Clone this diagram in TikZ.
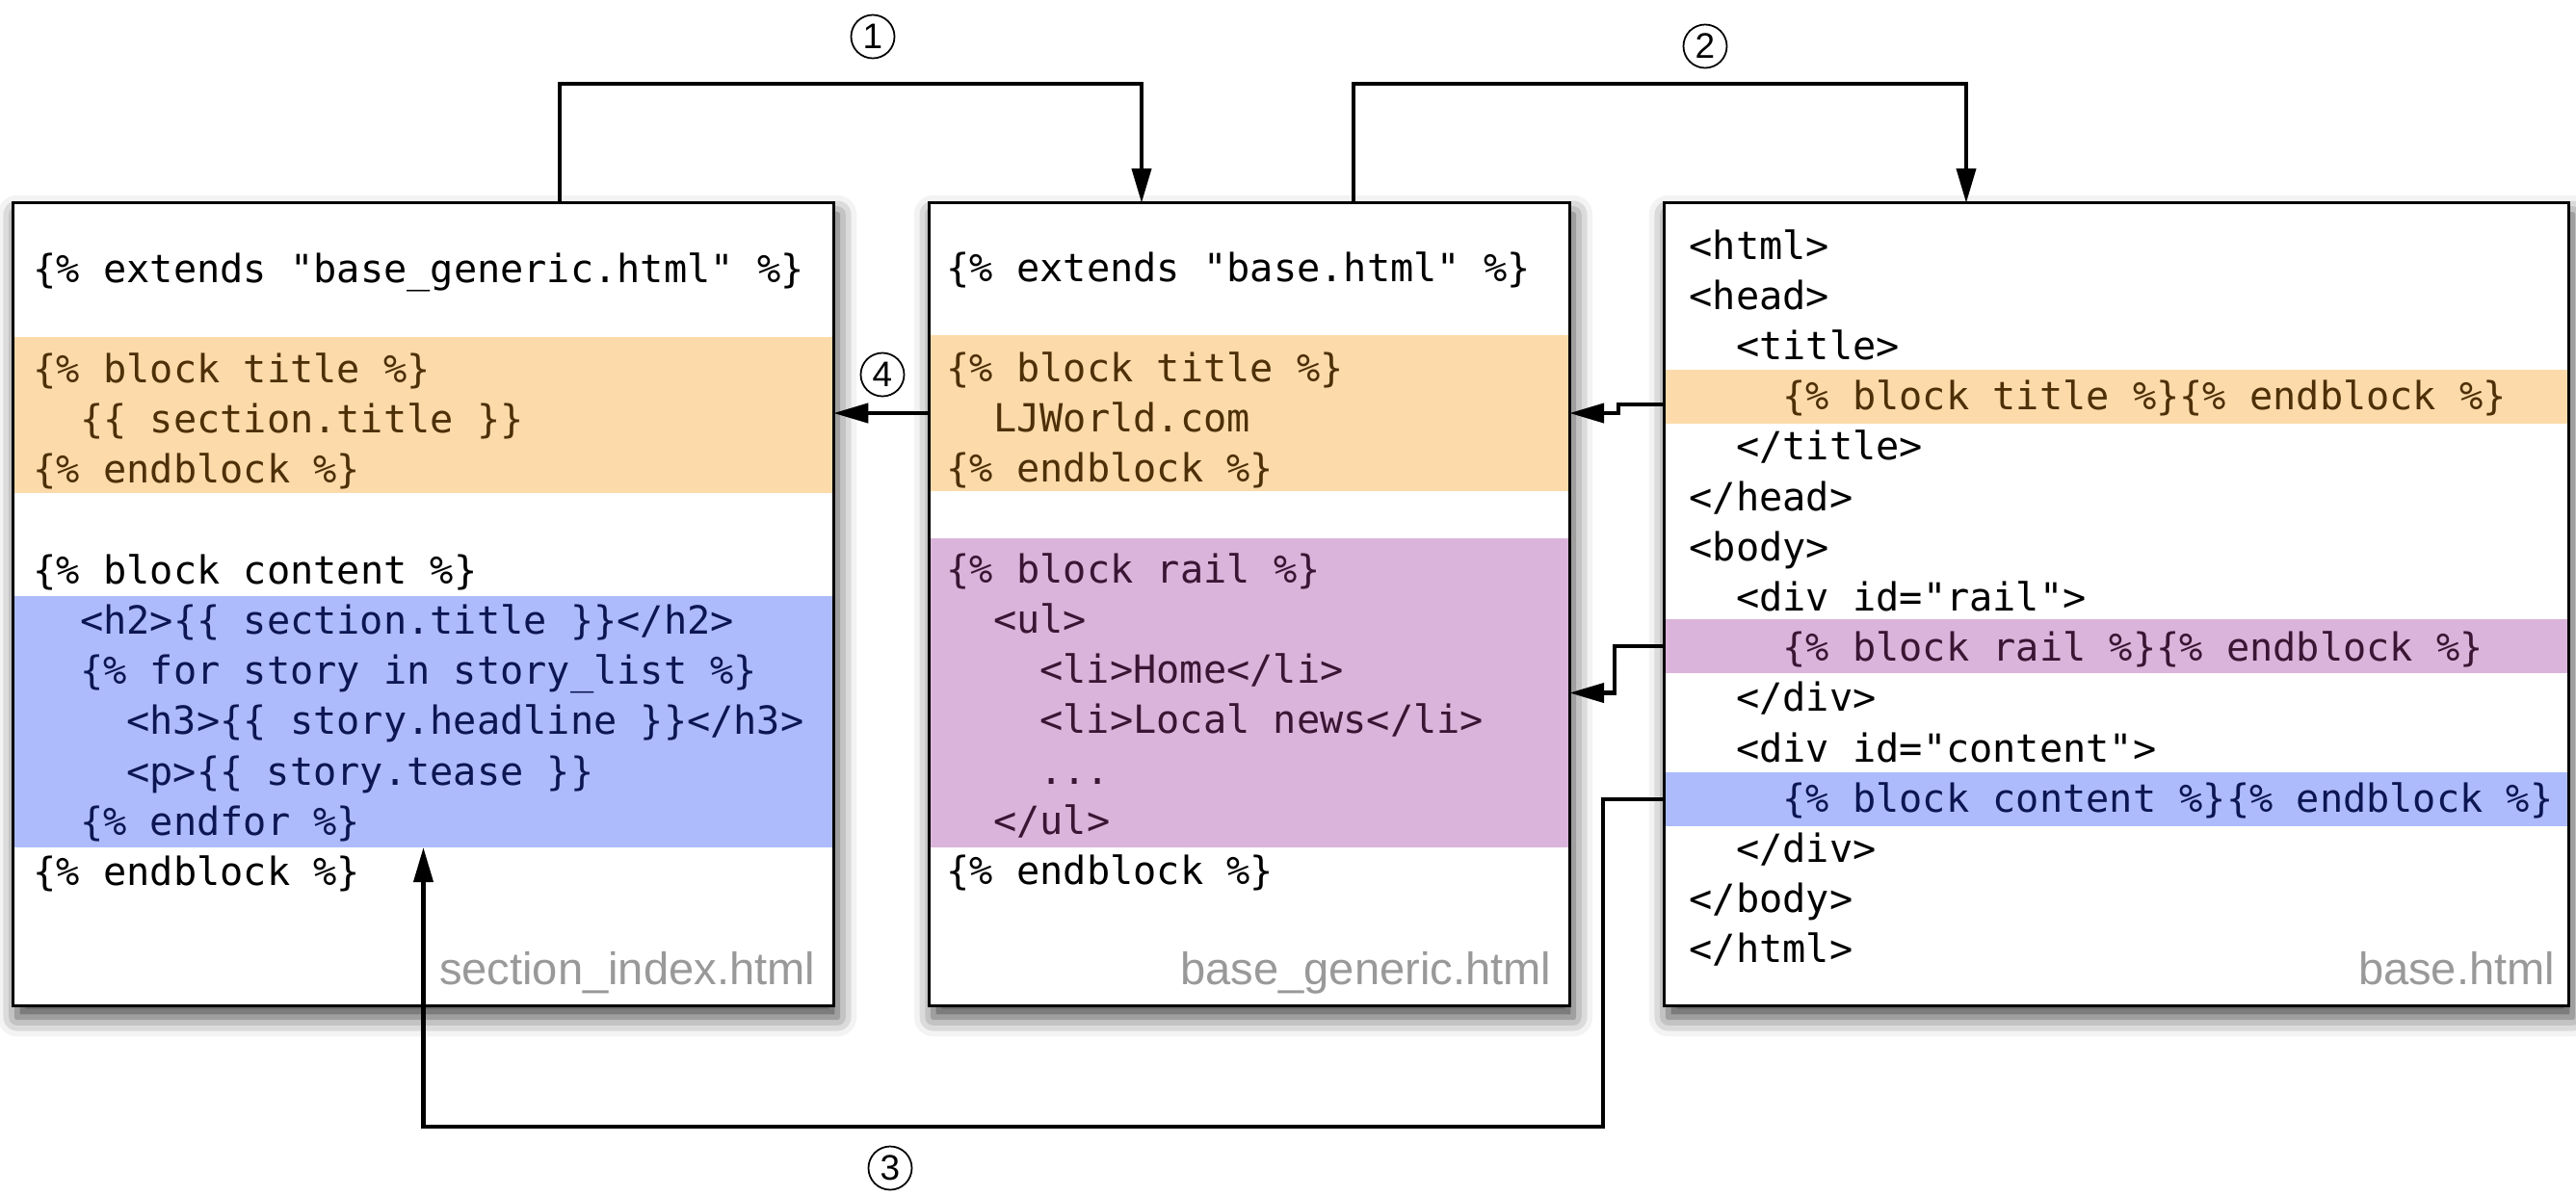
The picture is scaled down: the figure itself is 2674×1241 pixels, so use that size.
\documentclass[tikz,border=0pt]{standalone}
\usepackage{fontspec}
\setmainfont{Liberation Sans}
\setmonofont{DejaVu Sans Mono}
\usetikzlibrary{arrows.meta}
\usetikzlibrary{shadows.blur}
\definecolor{titleband}{RGB}{253,218,170}
\definecolor{railband}{RGB}{218,180,218}
\definecolor{contentband}{RGB}{173,187,253}
\definecolor{titletext}{RGB}{77,48,8}
\definecolor{railtext}{RGB}{58,22,52}
\definecolor{contenttext}{RGB}{12,22,82}
\definecolor{filelabel}{RGB}{153,153,153}
\tikzset{>={Triangle[length=0.36cm, width=0.2cm]}}

\begin{document}
\begin{tikzpicture}[x=0.01cm, y=-0.01cm,
    filebox/.style={fill=white, outer sep=0, inner sep=0,
      blur shadow={shadow xshift=0.04cm, shadow yshift=-0.12cm, shadow blur radius=0.2cm, shadow opacity=75}},
    frame/.style={draw=black, line width=0.9pt},
    band/.style={inner sep=0, outer sep=0},
    codeline/.style={font=\ttfamily\fontsize{11.45}{14}\selectfont, anchor=base west, inner sep=0},
    filename/.style={font=\fontsize{13.4}{16}\selectfont, text=filelabel, anchor=base east, inner sep=0},
    stepnum/.style={circle, draw, line width=0.5pt, minimum size=0.45cm, inner sep=0, font=\fontsize{10.5}{10.5}\selectfont},
    link/.style={->, line width=1.2pt}]

\useasboundingbox (0,0) rectangle (2674,1241);

% files
\node[filebox, minimum width=8.51cm, minimum height=8.33cm] (child) at (439.5,627.5) {};
\node[filebox, minimum width=6.64cm, minimum height=8.33cm] (generic) at (1297,627.5) {};
\node[filebox, minimum width=9.38cm, minimum height=8.33cm] (base) at (2197,627.5) {};

% blocks
\node[band, fill=titleband, minimum width=8.51cm, minimum height=1.62cm] (childtitle) at (439.5,431) {};
\node[band, fill=contentband, minimum width=8.51cm, minimum height=2.61cm] (childcontent) at (439.5,749.5) {};
\node[band, fill=titleband, minimum width=6.64cm, minimum height=1.62cm] (gentitle) at (1297,429) {};
\node[band, fill=railband, minimum width=6.64cm, minimum height=3.21cm] (genrail) at (1297,719.5) {};
\node[band, fill=titleband, minimum width=9.38cm, minimum height=0.56cm] (basetitle) at (2197,412) {};
\node[band, fill=railband, minimum width=9.38cm, minimum height=0.56cm] (baserail) at (2197,671) {};
\node[band, fill=contentband, minimum width=9.38cm, minimum height=0.56cm] (basecontent) at (2197,830) {};

\foreach \f in {child,generic,base}
  \draw[frame] (\f.north west) rectangle (\f.south east);

% code
\foreach \row/\ind/\col/\txt in {
    0/0/black/{\{\% extends "base\_generic.html" \%\}},
    2/0/titletext/{\{\% block title \%\}},
    3/2/titletext/{\{\{ section.title \}\}},
    4/0/titletext/{\{\% endblock \%\}},
    6/0/black/{\{\% block content \%\}},
    7/2/contenttext/{<h2>\{\{ section.title \}\}</h2>},
    8/2/contenttext/{\{\% for story in story\_list \%\}},
    9/4/contenttext/{<h3>\{\{ story.headline \}\}</h3>},
    10/4/contenttext/{<p>\{\{ story.tease \}\}},
    11/2/contenttext/{\{\% endfor \%\}},
    12/0/black/{\{\% endblock \%\}}}
  \node[codeline, text=\col] (child-\row) at (34+24.2*\ind, 293+52.2*\row) {\txt};

\foreach \row/\ind/\col/\txt in {
    0/0/black/{\{\% extends "base.html" \%\}},
    2/0/titletext/{\{\% block title \%\}},
    3/2/titletext/{LJWorld.com},
    4/0/titletext/{\{\% endblock \%\}},
    6/0/railtext/{\{\% block rail \%\}},
    7/2/railtext/{<ul>},
    8/4/railtext/{<li>Home</li>},
    9/4/railtext/{<li>Local news</li>},
    10/4/railtext/{...},
    11/2/railtext/{</ul>},
    12/0/black/{\{\% endblock \%\}}}
  \node[codeline, text=\col] (generic-\row) at (982+24.2*\ind, 292+52.2*\row) {\txt};

\foreach \row/\ind/\col/\txt in {
    0/0/black/{<html>},
    1/0/black/{<head>},
    2/2/black/{<title>},
    3/4/titletext/{\{\% block title \%\}\{\% endblock \%\}},
    4/2/black/{</title>},
    5/0/black/{</head>},
    6/0/black/{<body>},
    7/2/black/{<div id="rail">},
    8/4/railtext/{\{\% block rail \%\}\{\% endblock \%\}},
    9/2/black/{</div>},
    10/2/black/{<div id="content">},
    11/4/contenttext/{\{\% block content \%\}\{\% endblock \%\}},
    12/2/black/{</div>},
    13/0/black/{</body>},
    14/0/black/{</html>}}
  \node[codeline, text=\col] (base-\row) at (1753+24.2*\ind, 269+52.2*\row) {\txt};

\node[filename] (childname) at (847,1022) {section\_index.html};
\node[filename] (genericname) at (1611,1022) {base\_generic.html};
\node[filename] (basename) at (2653,1022) {base.html};

% inheritance
\coordinate (up1) at (581,87);
\coordinate (down1) at (1185,87);
\draw[link] (up1 |- child.north) -- (up1) -- (down1) -- (down1 |- generic.north);
\coordinate (up2) at (1405,87);
\coordinate (down2) at (2041,87);
\draw[link] (up2 |- generic.north) -- (up2) -- (down2) -- (down2 |- base.north);
\coordinate (titlefrom) at ([yshift=-0.08cm]basetitle.west);
\draw[link] (titlefrom) -- ++(-48,0) |- (gentitle.east);
\draw[link] (baserail.west) -- ++(-52,0) |- (genrail.east);
\draw[link] (gentitle.west) -- (gentitle.west -| childtitle.east);
\coordinate (under) at (1664,1170);
\draw[link] (basecontent.west) -| (under) -| (childcontent.south);

\node[stepnum] (num1) at (906,38) {1};
\node[stepnum] (num2) at (1770,48) {2};
\node[stepnum] (num3) at (924,1213) {3};
\node[stepnum] (num4) at (916,389) {4};

\end{tikzpicture}
\end{document}
